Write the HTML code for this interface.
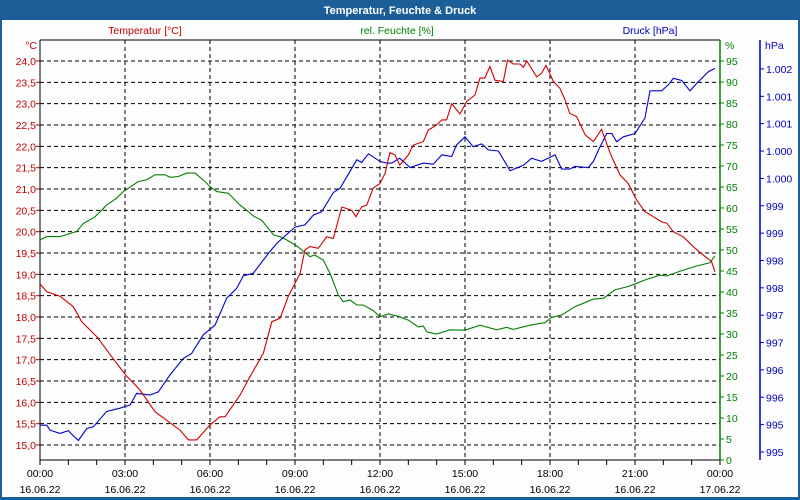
<!DOCTYPE html>
<html><head><meta charset="utf-8"><style>
html,body{margin:0;padding:0;background:#fff}
svg{display:block;font-family:"Liberation Sans",sans-serif}
</style></head><body>
<svg id="c" width="800" height="500" viewBox="0 0 800 500" xmlns="http://www.w3.org/2000/svg">
<rect x="0" y="0" width="800" height="500" fill="#1c5f98"/>
<rect x="2" y="20" width="796" height="477" fill="#fdfdfd"/>
<text x="400" y="14" text-anchor="middle" fill="#fff" font-size="11" font-weight="bold">Temperatur, Feuchte &amp; Druck</text>
<text x="145" y="34" text-anchor="middle" fill="#c00000" font-size="10.5">Temperatur [°C]</text>
<text x="397" y="34" text-anchor="middle" fill="#008000" font-size="10.5">rel. Feuchte [%]</text>
<text x="650" y="34" text-anchor="middle" fill="#0000c0" font-size="10.5">Druck [hPa]</text>
<text x="37" y="49" text-anchor="end" fill="#c00000" font-size="10.5">°C</text>
<text x="725" y="49" fill="#008000" font-size="10.5">%</text>
<text x="765" y="49" fill="#0000c0" font-size="10.5">hPa</text>
<g id="grid"></g><g id="axes"></g><g id="series"></g>
</svg>
<script>
const tTime=[0,.24,.7,1.18,1.47,2.0,2.53,3.02,3.53,4.06,4.94,5.24,5.53,6.0,6.35,6.53,7.06,7.41,7.88,8.18,8.47,8.76,9.18,9.35,9.53,9.82,10.12,10.35,10.65,11.0,11.15,11.35,11.53,11.76,12.0,12.18,12.35,12.53,12.7,13.0,13.18,13.53,13.7,14.0,14.18,14.35,14.53,14.82,15.06,15.35,15.53,15.7,15.88,16.06,16.35,16.5,16.7,16.94,17.06,17.18,17.53,17.7,17.86,18.12,18.35,18.53,18.7,18.94,19.24,19.53,19.82,20.12,20.47,20.76,21.06,21.35,21.65,21.94,22.12,22.35,22.7,23.12,23.41,23.7,23.82];
const tempValues=[18.77,18.59,18.49,18.24,17.89,17.54,17.07,16.64,16.29,15.78,15.35,15.12,15.12,15.47,15.66,15.66,16.17,16.6,17.15,17.89,17.97,18.48,19.02,19.57,19.65,19.61,19.88,19.84,20.58,20.5,20.35,20.58,20.62,21.02,21.13,21.37,21.85,21.8,21.56,21.8,22.03,22.11,22.38,22.5,22.62,22.62,23.0,22.76,23.05,23.2,23.6,23.6,23.87,23.55,23.52,24.02,23.93,23.93,23.85,24.0,23.63,23.71,23.9,23.52,23.36,23.09,22.77,22.7,22.27,22.11,22.4,21.84,21.33,21.13,20.74,20.47,20.35,20.23,20.2,20.0,19.88,19.61,19.45,19.3,19.06];
const hTime=[0,.24,.7,1.29,1.53,1.94,2.35,2.7,2.94,3.47,3.76,4.06,4.41,4.59,4.88,5.18,5.47,5.76,6.0,6.24,6.65,7.06,7.29,7.53,7.82,8.24,8.47,8.7,9.06,9.53,9.7,10.0,10.24,10.53,10.7,10.94,11.18,11.41,11.76,12.0,12.29,12.7,13.0,13.35,13.53,13.65,14.0,14.47,15.0,15.53,16.12,16.47,16.7,17.29,17.82,18.06,18.41,18.88,19.53,19.88,20.29,20.76,21.41,21.88,22.12,22.65,23.18,23.65,23.82];
const humValues=[52.4,53.2,53.2,54.4,56.3,57.9,60.7,62.3,63.9,66.3,66.7,67.9,67.9,67.3,67.5,68.3,68.3,66.7,65.1,63.9,63.5,60.7,59.5,58.1,57.1,53.6,53.2,52.4,51.0,48.4,48.8,47.6,44.4,39.3,37.7,38.1,36.9,36.9,35.6,34.1,34.8,34.1,33.3,31.7,31.9,30.5,30.0,31.0,30.9,32.1,31.0,31.6,31.1,32.1,32.7,34.0,34.5,36.5,38.3,38.5,40.5,41.3,43.0,44.0,43.8,45.1,46.2,47.0,48.6];
const pTime=[0,.24,.35,.7,1.0,1.35,1.65,1.88,2.35,2.82,3.18,3.41,3.88,4.18,4.59,5.06,5.35,5.76,6.18,6.59,6.94,7.18,7.53,8.06,8.35,9.0,9.35,9.65,9.94,10.35,10.59,11.18,11.35,11.59,12.0,12.24,12.41,12.7,13.06,13.53,13.88,14.18,14.53,14.7,15.0,15.29,15.59,15.82,16.18,16.59,17.06,17.35,17.7,18.18,18.41,18.7,18.88,19.35,19.53,19.71,20.0,20.18,20.35,20.59,21.0,21.35,21.53,21.94,22.18,22.35,22.65,22.94,23.18,23.59,23.82];
const pressValues=[995.49,995.49,995.40,995.34,995.39,995.21,995.43,995.46,995.74,995.80,995.86,996.07,996.04,996.10,996.41,996.71,996.80,997.14,997.32,997.81,997.99,998.22,998.27,998.63,998.81,999.11,999.15,999.33,999.39,999.74,999.82,1000.34,1000.29,1000.45,1000.31,1000.28,1000.28,1000.37,1000.20,1000.28,1000.26,1000.43,1000.40,1000.61,1000.76,1000.58,1000.63,1000.52,1000.50,1000.14,1000.24,1000.37,1000.31,1000.43,1000.17,1000.17,1000.22,1000.20,1000.31,1000.52,1000.82,1000.82,1000.67,1000.76,1000.82,1001.10,1001.60,1001.60,1001.71,1001.83,1001.79,1001.60,1001.74,1001.95,1002.01,1002.15];
const tempTicks=[15.0,15.5,16.0,16.5,17.0,17.5,18.0,18.5,19.0,19.5,20.0,20.5,21.0,21.5,22.0,22.5,23.0,23.5,24.0];
const humTicks=[0,5,10,15,20,25,30,35,40,45,50,55,60,65,70,75,80,85,90,95];
const pressTicks=[995,995.5,996,996.5,997,997.5,998,998.5,999,999.5,1000,1000.5,1001,1001.5,1002];
const pressLabels=["995","995","996","996","997","997","998","998","999","999","1.000","1.000","1.001","1.001","1.002"];
const timeTicks=[0,3,6,9,12,15,18,21,24];
const timeLabels=["00:00","03:00","06:00","09:00","12:00","15:00","18:00","21:00","00:00"];
const dateLabels=["16.06.22","16.06.22","16.06.22","16.06.22","16.06.22","16.06.22","16.06.22","16.06.22","17.06.22"];

const L=40,R=720,T=40,B=460;
const xS=h=>L+h*(R-L)/24;
const yT=v=>61+(24-v)*42.667;
const yH=v=>B-v*4.2;
const yP=v=>452-(v-995)*54.72;
const NS="http://www.w3.org/2000/svg";
function mk(tag,attrs,parent,txt){const e=document.createElementNS(NS,tag);for(const k in attrs)e.setAttribute(k,attrs[k]);if(txt!==undefined)e.textContent=txt;document.getElementById(parent).appendChild(e);return e;}

tempTicks.forEach(v=>{const y=yT(v);
 const g=mk('line',{x1:L,x2:R,y1:y,y2:y,stroke:'#000','stroke-dasharray':'4,3','stroke-width':1},'grid');
 
 
 const tk=mk('line',{x1:L-4,x2:L,y1:y,y2:y,stroke:'#c00000'},'axes');
 
 
 const t=mk('text',{x:L-4,y:y+4,'text-anchor':'end',fill:'#c00000','font-size':10.5},'axes',v.toFixed(1).replace('.',','));
 
 
});
timeTicks.forEach((h,i)=>{const x=xS(h);
 if(i>0&&i<8){const g=mk('line',{x1:x,x2:x,y1:T,y2:B,stroke:'#000','stroke-dasharray':'4,3'},'grid');
 
 }
 const a=mk('text',{x:x,y:477,'text-anchor':'middle',fill:'#000','font-size':10.5},'axes',timeLabels[i]);
 
 
 const d=mk('text',{x:x,y:493,'text-anchor':'middle',fill:'#000','font-size':10.5},'axes',dateLabels[i]);
 
 
});
for(let h=0;h<=24;h++){const x=xS(h);const tk=mk('line',{x1:x,x2:x,y1:B,y2:B+5,stroke:'#000'},'axes');
 
 }
humTicks.forEach(v=>{const y=yH(v);
 const tk=mk('line',{x1:R,x2:R+4,y1:y,y2:y,stroke:'#008000'},'axes');
 
 
 const t=mk('text',{x:R+6,y:y+4,fill:'#008000','font-size':10.5},'axes',String(v));
 
 
});
pressTicks.forEach((v,i)=>{const y=yP(v);
 const tk=mk('line',{x1:760,x2:764,y1:y,y2:y,stroke:'#0000c0'},'axes');
 
 
 const t=mk('text',{x:766,y:y+4,fill:'#0000c0','font-size':10.5},'axes',pressLabels[i]);
 
 
});
const ax=[[L,T,L,B,'#000','left-axis'],[L,B,R,B,'#000','x-axis'],[L,T,R,T,'#000','top-border'],[R,T,R,B,'#008000','humidity-axis'],[760,T,760,B,'#0000c0','pressure-axis']];
ax.forEach(a=>{const e=mk('line',{x1:a[0],y1:a[1],x2:a[2],y2:a[3],stroke:a[4],'stroke-width':a[5]==='pressure-axis'||a[5]==='humidity-axis'?1.5:1},'axes');
 
 });
function line(ts,vs,ys,col,name){const d=ts.map((t,i)=>(i?'L':'M')+xS(t).toFixed(1)+','+ys(vs[i]).toFixed(1)).join('');
 const p=mk('path',{d:d,fill:'none',stroke:col,'stroke-width':1.1},'series');
 
 }
line(hTime,humValues,yH,'#008000','humidity-line');
line(pTime,pressValues,yP,'#0000d0','pressure-line');
line(tTime,tempValues,yT,'#d00000','temperature-line');
</script>
</body></html>
